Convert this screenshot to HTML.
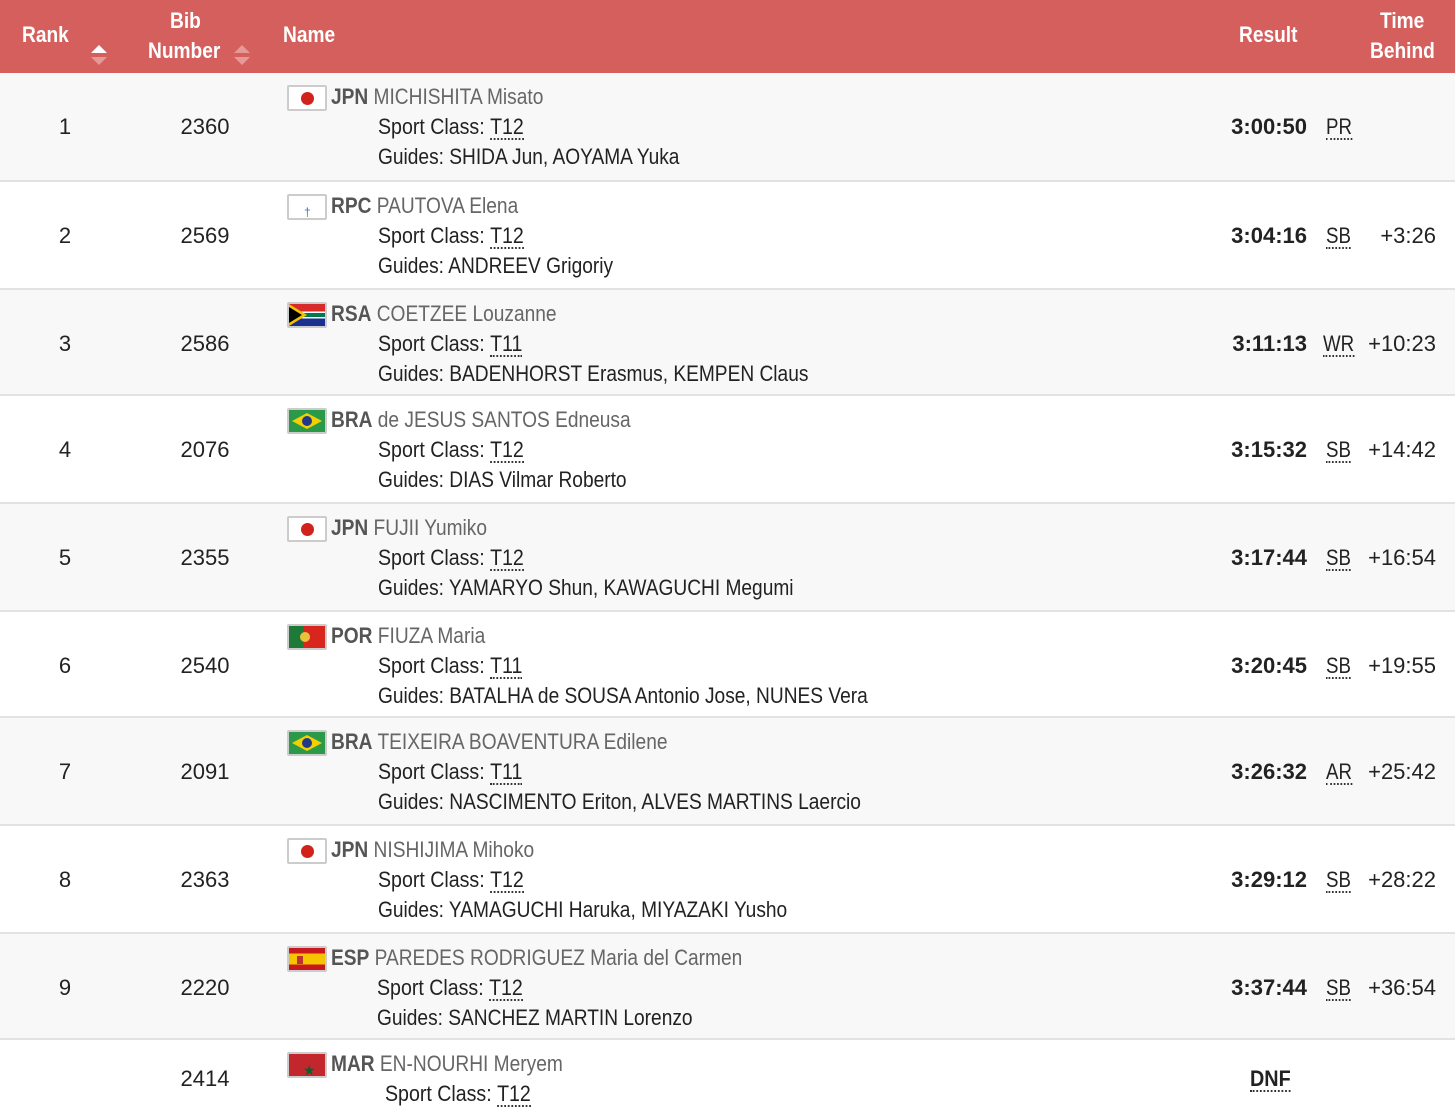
<!DOCTYPE html>
<html><head><meta charset="utf-8"><style>
*{margin:0;padding:0;box-sizing:border-box}
body{width:1455px;height:1117px;overflow:hidden;background:#fff;font-family:"Liberation Sans",sans-serif;color:#222;font-size:22px;position:relative}
.hd{position:absolute;left:0;top:0;width:1455px;height:73px;background:#d55f5d;color:#fff;font-weight:bold}
.hd div{position:absolute;line-height:26px;white-space:nowrap}
.hd .t{transform:scaleX(.87);transform-origin:left}
.ar{position:absolute;width:0;height:0;border-left:8px solid transparent;border-right:8px solid transparent}
.row{position:absolute;left:0;width:1455px;border-bottom:2px solid #e0e2e4}
.row>div{position:absolute;line-height:26px;white-space:nowrap}
.g{background:#f8f8f8}
.rk{left:35px;width:60px;text-align:center;top:41px}
.bib{left:165px;width:80px;text-align:center;top:41px}
.nm{left:331px;top:11px;color:#666;transform:scaleX(.87);transform-origin:left}
.nm b{color:#555}
.sc{left:378px;top:41px;transform:scaleX(.89);transform-origin:left}
.gd{left:378px;top:71px;transform:scaleX(.87);transform-origin:left}
.u{border-bottom:2px dotted #333;line-height:22px;display:inline-block}
.res{right:148px;top:41px;font-weight:bold}
.cd{left:1326px;top:41px;transform:scaleX(.85);transform-origin:left}
.tb{right:19px;top:41px}
.fl{left:287px;top:12px;width:40px;height:26px;border:2px solid #ccc;border-radius:2px;overflow:hidden;background:#fff}
.jp::after{content:"";position:absolute;left:12px;top:5px;width:13px;height:13px;border-radius:50%;background:#d2221c}
</style></head><body>
<div class="hd">
<div class="t" style="left:22px;top:22px">Rank</div>
<div class="ar" style="left:91px;top:45px;border-bottom:8px solid #fff"></div>
<div class="ar" style="left:91px;top:57px;border-top:8px solid #e79997"></div>
<div class="t" style="left:170px;top:8px">Bib</div>
<div class="t" style="left:148px;top:38px">Number</div>
<div class="ar" style="left:234px;top:45px;border-bottom:8px solid #e79997"></div>
<div class="ar" style="left:234px;top:57px;border-top:8px solid #e79997"></div>
<div class="t" style="left:283px;top:22px">Name</div>
<div class="t" style="left:1239px;top:22px">Result</div>
<div class="t" style="left:1380px;top:8px">Time</div>
<div class="t" style="left:1370px;top:38px">Behind</div>
</div>

<div class="row g" style="top:73px;height:109px">
<div class="fl jp"></div><div class="nm"><b>JPN</b> MICHISHITA Misato</div>
<div class="rk">1</div><div class="bib">2360</div>
<div class="sc">Sport Class: <span class="u">T12</span></div><div class="gd">Guides: SHIDA Jun, AOYAMA Yuka</div>
<div class="res">3:00:50</div><div class="cd"><span class="u">PR</span></div>
</div>

<div class="row" style="top:182px;height:108px">
<div class="fl"><span style="position:absolute;left:15px;top:3px;color:#4a6fc0;font-size:12px">&#8224;</span></div><div class="nm"><b>RPC</b> PAUTOVA Elena</div>
<div class="rk">2</div><div class="bib">2569</div>
<div class="sc">Sport Class: <span class="u">T12</span></div><div class="gd">Guides: ANDREEV Grigoriy</div>
<div class="res">3:04:16</div><div class="cd"><span class="u">SB</span></div><div class="tb">+3:26</div>
</div>

<div class="row g" style="top:290px;height:106px">
<div class="fl" style="background:linear-gradient(#d62b2b 0 33%,#fff 33% 40%,#007a4d 40% 60%,#fff 60% 67%,#1b2f8f 67%)"><svg width="40" height="26" style="position:absolute;left:0;top:0"><polygon points="0,0 18,11 0,22" fill="#f4c200"/><polygon points="0,3 13,11 0,19" fill="#000"/></svg></div><div class="nm"><b>RSA</b> COETZEE Louzanne</div>
<div class="rk">3</div><div class="bib">2586</div>
<div class="sc">Sport Class: <span class="u">T11</span></div><div class="gd">Guides: BADENHORST Erasmus, KEMPEN Claus</div>
<div class="res">3:11:13</div><div class="cd" style="left:1323px"><span class="u">WR</span></div><div class="tb">+10:23</div>
</div>

<div class="row" style="top:396px;height:108px">
<div class="fl" style="background:#2b9a48"><svg width="40" height="26" style="position:absolute;left:0;top:0"><polygon points="18,3 33,11 18,19 3,11" fill="#f4d000"/><circle cx="18" cy="11" r="5" fill="#1f3a8a"/></svg></div><div class="nm"><b>BRA</b> de JESUS SANTOS Edneusa</div>
<div class="rk">4</div><div class="bib">2076</div>
<div class="sc">Sport Class: <span class="u">T12</span></div><div class="gd">Guides: DIAS Vilmar Roberto</div>
<div class="res">3:15:32</div><div class="cd"><span class="u">SB</span></div><div class="tb">+14:42</div>
</div>

<div class="row g" style="top:504px;height:108px">
<div class="fl jp"></div><div class="nm"><b>JPN</b> FUJII Yumiko</div>
<div class="rk">5</div><div class="bib">2355</div>
<div class="sc">Sport Class: <span class="u">T12</span></div><div class="gd">Guides: YAMARYO Shun, KAWAGUCHI Megumi</div>
<div class="res">3:17:44</div><div class="cd"><span class="u">SB</span></div><div class="tb">+16:54</div>
</div>

<div class="row" style="top:612px;height:106px">
<div class="fl" style="background:linear-gradient(90deg,#1f7a3a 0 40%,#d8261f 40%)"><span style="position:absolute;left:11px;top:6px;width:10px;height:10px;border-radius:50%;background:#e9c23a"></span></div><div class="nm"><b>POR</b> FIUZA Maria</div>
<div class="rk">6</div><div class="bib">2540</div>
<div class="sc">Sport Class: <span class="u">T11</span></div><div class="gd">Guides: BATALHA de SOUSA Antonio Jose, NUNES Vera</div>
<div class="res">3:20:45</div><div class="cd"><span class="u">SB</span></div><div class="tb">+19:55</div>
</div>

<div class="row g" style="top:718px;height:108px">
<div class="fl" style="background:#2b9a48"><svg width="40" height="26" style="position:absolute;left:0;top:0"><polygon points="18,3 33,11 18,19 3,11" fill="#f4d000"/><circle cx="18" cy="11" r="5" fill="#1f3a8a"/></svg></div><div class="nm"><b>BRA</b> TEIXEIRA BOAVENTURA Edilene</div>
<div class="rk">7</div><div class="bib">2091</div>
<div class="sc">Sport Class: <span class="u">T11</span></div><div class="gd">Guides: NASCIMENTO Eriton, ALVES MARTINS Laercio</div>
<div class="res">3:26:32</div><div class="cd"><span class="u">AR</span></div><div class="tb">+25:42</div>
</div>

<div class="row" style="top:826px;height:108px">
<div class="fl jp"></div><div class="nm"><b>JPN</b> NISHIJIMA Mihoko</div>
<div class="rk">8</div><div class="bib">2363</div>
<div class="sc">Sport Class: <span class="u">T12</span></div><div class="gd">Guides: YAMAGUCHI Haruka, MIYAZAKI Yusho</div>
<div class="res">3:29:12</div><div class="cd"><span class="u">SB</span></div><div class="tb">+28:22</div>
</div>

<div class="row g" style="top:934px;height:106px">
<div class="fl" style="background:linear-gradient(#c8181e 0 25%,#f6c500 25% 75%,#c8181e 75%)"><span style="position:absolute;left:8px;top:8px;width:6px;height:8px;background:#b33"></span></div><div class="nm"><b>ESP</b> PAREDES RODRIGUEZ Maria del Carmen</div>
<div class="rk">9</div><div class="bib">2220</div>
<div class="sc" style="left:377px">Sport Class: <span class="u">T12</span></div><div class="gd" style="left:377px">Guides: SANCHEZ MARTIN Lorenzo</div>
<div class="res">3:37:44</div><div class="cd"><span class="u">SB</span></div><div class="tb">+36:54</div>
</div>

<div class="row" style="top:1040px;height:77px;border-bottom:none">
<div class="fl" style="background:#c1272d"><span style="position:absolute;left:14px;top:3px;color:#006233;font-size:14px">&#9733;</span></div><div class="nm"><b>MAR</b> EN-NOURHI Meryem</div>
<div class="bib" style="top:26px">2414</div>
<div class="sc" style="left:385px">Sport Class: <span class="u">T12</span></div>
<div style="left:1250px;top:26px;font-weight:bold;transform:scaleX(.9);transform-origin:left"><span class="u">DNF</span></div>
</div>
</body></html>
